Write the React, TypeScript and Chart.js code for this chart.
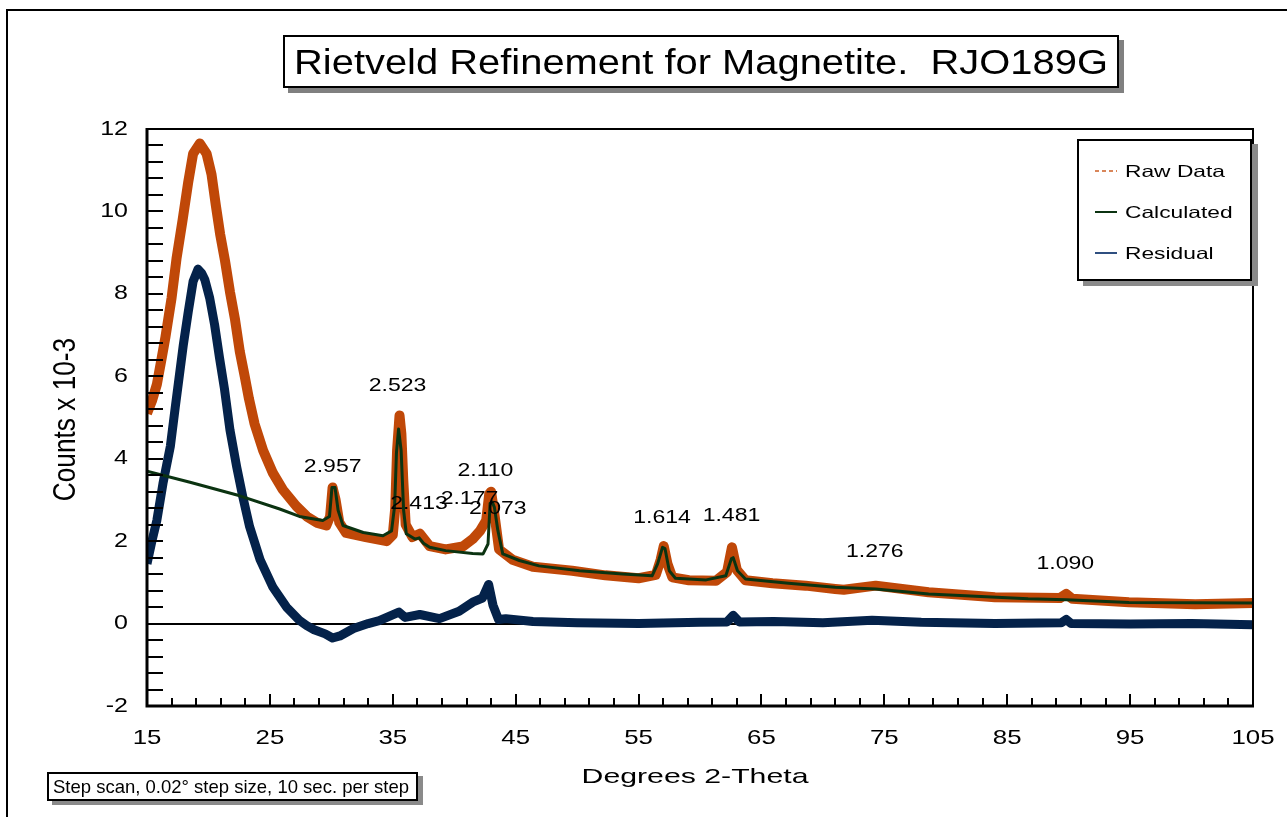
import React, { useEffect, useRef } from "react";
import { Chart, registerables } from "chart.js";

Chart.register(...registerables);

// ---------- data (degrees 2-theta, counts x 10^-3) ----------
const rawT = [15.0, 15.4, 15.8, 16.2, 16.5, 17.0, 17.4, 17.9, 18.35, 18.75, 19.3, 19.85, 20.25, 20.6, 20.95, 21.35, 21.75, 22.15, 22.55, 22.95, 23.3, 23.75, 24.45, 25.25, 26.05, 27.15, 28.0, 28.8, 29.6, 29.9, 30.1, 30.35, 30.65, 31.2, 32.8, 34.5, 35.0, 35.2, 35.35, 35.55, 35.7, 35.85, 36.05, 36.6, 37.2, 38.0, 39.3, 40.7, 41.5, 42.1, 42.6, 42.85, 43.0, 43.25, 43.65, 44.75, 46.4, 47.0, 49.6, 52.3, 55.0, 56.4, 56.8, 57.05, 57.35, 57.75, 59.1, 61.3, 62.2, 62.6, 63.0, 63.7, 65.9, 68.6, 71.0, 71.7, 74.3, 78.6, 84.0, 89.3, 89.8, 90.3, 94.9, 100.3, 105.0];
const rawV = [5.1, 5.4, 5.8, 6.45, 6.95, 7.9, 8.85, 9.8, 10.7, 11.4, 11.65, 11.4, 10.9, 10.15, 9.45, 8.8, 8.05, 7.4, 6.6, 6.0, 5.45, 4.85, 4.2, 3.65, 3.25, 2.85, 2.6, 2.45, 2.38, 2.6, 3.3, 3.0, 2.45, 2.2, 2.1, 2.0, 2.15, 2.8, 4.2, 5.05, 4.6, 3.5, 2.4, 2.1, 2.18, 1.88, 1.8, 1.87, 2.05, 2.25, 2.5, 3.15, 3.2, 2.7, 1.8, 1.55, 1.38, 1.36, 1.28, 1.17, 1.1, 1.18, 1.55, 1.88, 1.45, 1.12, 1.05, 1.04, 1.25, 1.85, 1.3, 1.05, 0.98, 0.92, 0.84, 0.82, 0.92, 0.76, 0.64, 0.62, 0.72, 0.6, 0.52, 0.47, 0.5];

const calcT = [15.0, 18.5, 22.55, 25.8, 27.4, 29.3, 29.85, 30.05, 30.3, 30.55, 30.95, 32.6, 34.2, 34.9, 35.15, 35.3, 35.47, 35.68, 35.88, 36.1, 36.8, 37.15, 37.5, 38.0, 39.3, 41.5, 42.35, 42.75, 42.92, 43.1, 43.27, 43.55, 43.95, 45.3, 46.9, 50.2, 53.7, 56.1, 56.55, 56.95, 57.15, 57.5, 58.0, 60.5, 62.1, 62.55, 62.7, 63.05, 63.7, 67.2, 71.0, 74.3, 78.6, 86.7, 89.8, 94.9, 105.0];
const calcV = [3.7, 3.43, 3.1, 2.78, 2.6, 2.5, 2.6, 3.3, 3.3, 2.75, 2.38, 2.21, 2.13, 2.25, 2.85, 4.15, 4.72, 4.2, 2.75, 2.18, 2.05, 2.08, 1.95, 1.85, 1.77, 1.7, 1.69, 1.93, 2.92, 2.95, 2.82, 2.26, 1.69, 1.53, 1.4, 1.28, 1.2, 1.16, 1.45, 1.85, 1.82, 1.28, 1.1, 1.06, 1.16, 1.57, 1.6, 1.28, 1.08, 0.98, 0.88, 0.84, 0.72, 0.6, 0.58, 0.51, 0.5];

const residT = [15.0, 15.4, 15.8, 16.3, 16.9, 17.3, 17.95, 18.35, 18.75, 19.15, 19.45, 19.7, 20.1, 20.5, 20.9, 21.3, 21.75, 22.3, 22.8, 23.35, 24.2, 25.25, 26.35, 27.4, 28.0, 28.6, 29.5, 30.1, 30.7, 31.8, 33.0, 33.9, 35.5, 36.0, 37.2, 38.8, 40.4, 41.5, 42.3, 42.8, 43.15, 43.6, 44.2, 46.4, 50.0, 55.0, 60.0, 62.2, 62.7, 63.2, 66.0, 70.0, 74.0, 78.0, 84.0, 89.4, 89.8, 90.2, 95.0, 100.0, 105.0];
const residV = [1.45, 2.0, 2.5, 3.4, 4.3, 5.25, 6.75, 7.55, 8.3, 8.6, 8.5, 8.35, 7.9, 7.25, 6.45, 5.7, 4.7, 3.8, 3.07, 2.35, 1.55, 0.88, 0.4, 0.08, -0.05, -0.15, -0.25, -0.35, -0.3, -0.12, 0.0, 0.07, 0.28, 0.15, 0.22, 0.12, 0.3, 0.52, 0.62, 0.95, 0.45, 0.1, 0.12, 0.05, 0.02, 0.0, 0.03, 0.04, 0.2, 0.04, 0.05, 0.02, 0.08, 0.03, 0.0, 0.02, 0.1, 0.0, -0.01, 0.0, -0.03];

const xTickValues = [15, 25, 35, 45, 55, 65, 75, 85, 95, 105];
const yTickValues = [-2, 0, 2, 4, 6, 8, 10, 12];
const xMinorStep = 2;
const yMinorStep = 0.4;

const peakText = ["2.957", "2.523", "2.413", "2.177", "2.110", "2.073", "1.614", "1.481", "1.276", "1.090"];
const peakT = [30.11, 35.39, 37.13, 41.24, 42.54, 43.55, 56.91, 62.56, 74.22, 89.73];
const peakV = [3.81, 5.76, 2.9, 3.03, 3.7, 2.78, 2.57, 2.62, 1.73, 1.45];

const titleText = "Rietveld Refinement for Magnetite.  RJO189G";
const xTitle = "Degrees 2-Theta";
const yTitle = "Counts x 10-3";
const noteText = "Step scan, 0.02\u00b0 step size, 10 sec. per step";
const legendItems = ["Raw Data", "Calculated", "Residual"];

const FONT = "'Liberation Sans', Arial, Helvetica, sans-serif";
const RAW_COLOR = "#c04808";
const CALC_COLOR = "#0b3311";
const RESID_COLOR = "#04224a";

function drawText(ctx: CanvasRenderingContext2D, text: string, x: number, y: number, size: number, align: CanvasTextAlign, sx: number, rot = 0) {
  ctx.save();
  ctx.translate(x, y);
  if (rot) ctx.rotate(rot);
  ctx.scale(sx, 1);
  ctx.font = `${size}px ${FONT}`;
  ctx.textAlign = align;
  ctx.textBaseline = "middle";
  ctx.fillStyle = "#000";
  ctx.fillText(text, 0, 0);
  ctx.restore();
}

const decorPlugin = {
  id: "decor",
  beforeDatasetsDraw(chart: any) {
    const { ctx, chartArea: a, scales } = chart;
    const y0 = Math.round(scales.y.getPixelForValue(0));
    ctx.save();
    ctx.strokeStyle = "#000";
    ctx.lineWidth = 2;
    ctx.beginPath();
    ctx.moveTo(a.left, y0);
    ctx.lineTo(a.right, y0);
    ctx.stroke();
    ctx.restore();
  },
  afterDatasetsDraw(chart: any) {
    const { ctx, chartArea: a, scales } = chart;
    const xs = scales.x;
    const ys = scales.y;
    ctx.save();
    ctx.strokeStyle = "#000";
    ctx.lineCap = "butt";
    ctx.lineWidth = 2;
    ctx.beginPath();
    ctx.moveTo(a.left, a.top);
    ctx.lineTo(a.right, a.top);
    ctx.lineTo(a.right, a.bottom);
    ctx.stroke();
    ctx.lineWidth = 3;
    ctx.beginPath();
    ctx.moveTo(a.left, a.top - 1);
    ctx.lineTo(a.left, a.bottom);
    ctx.lineTo(a.right + 1, a.bottom);
    ctx.stroke();

    ctx.lineWidth = 2;
    const nY = Math.round((ys.max - ys.min) / yMinorStep);
    for (let i = 1; i < nY; i++) {
      const v = ys.min + i * yMinorStep;
      const py = Math.round(ys.getPixelForValue(v));
      ctx.beginPath();
      ctx.moveTo(a.left, py);
      ctx.lineTo(a.left + 16, py);
      ctx.stroke();
    }
    const nX = Math.round((xs.max - xs.min) / xMinorStep);
    for (let i = 1; i < nX; i++) {
      const v = xs.min + i * xMinorStep;
      const major = xTickValues.some((t) => Math.abs(t - v) < 1e-6);
      const px = Math.round(xs.getPixelForValue(v));
      ctx.beginPath();
      ctx.moveTo(px, a.bottom);
      ctx.lineTo(px, a.bottom - (major ? 12 : 8));
      ctx.stroke();
    }
    ctx.restore();

    ys.ticks.forEach((t: any) => drawText(ctx, String(t.value), a.left - 19, ys.getPixelForValue(t.value), 20, "right", 1.25));
    xs.ticks.forEach((t: any) => drawText(ctx, String(t.value), xs.getPixelForValue(t.value), a.bottom + 32, 21, "center", 1.23));
    drawText(ctx, xTitle, (a.left + a.right) / 2 - 5, a.bottom + 71, 21, "center", 1.44);
    drawText(ctx, yTitle, 66.5, (a.top + a.bottom) / 2 + 2, 32, "center", 0.82, -Math.PI / 2);

    peakText.forEach((txt, i) => {
      drawText(ctx, txt, xs.getPixelForValue(peakT[i]), ys.getPixelForValue(peakV[i]), 18, "center", 1.28);
    });
  },
};

function ChartCanvas() {
  const ref = useRef<HTMLCanvasElement | null>(null);
  useEffect(() => {
    if (!ref.current) return;
    const toPts = (t: number[], v: number[]) => t.map((x, i) => ({ x, y: v[i] }));
    const chart = new Chart(ref.current, {
      type: "line",
      data: {
        datasets: [
          { label: "Calculated", data: toPts(calcT, calcV), borderColor: CALC_COLOR, borderWidth: 3, order: 0, clip: 0, borderJoinStyle: "round" } as any,
          { label: "Raw Data", data: toPts(rawT, rawV), borderColor: RAW_COLOR, borderWidth: 10, order: 1, clip: 0, borderJoinStyle: "round" } as any,
          { label: "Residual", data: toPts(residT, residV), borderColor: RESID_COLOR, borderWidth: 9, order: 2, clip: 0, borderJoinStyle: "round" } as any,
        ],
      },
      options: {
        animation: false,
        responsive: false,
        maintainAspectRatio: false,
        layout: { padding: { left: 0, top: 129, right: 34, bottom: 0 } },
        elements: { point: { radius: 0 }, line: { tension: 0 } },
        plugins: { legend: { display: false }, tooltip: { enabled: false }, title: { display: false } },
        scales: {
          x: {
            type: "linear",
            min: 15,
            max: 105,
            grid: { display: false, drawTicks: false },
            border: { display: false },
            ticks: { display: false },
            afterBuildTicks: (s: any) => {
              s.ticks = xTickValues.map((v) => ({ value: v }));
            },
            afterFit: (s: any) => {
              s.height = 111;
            },
          },
          y: {
            type: "linear",
            min: -2,
            max: 12,
            grid: { display: false, drawTicks: false },
            border: { display: false },
            ticks: { display: false },
            afterBuildTicks: (s: any) => {
              s.ticks = yTickValues.map((v) => ({ value: v }));
            },
            afterFit: (s: any) => {
              s.width = 147;
            },
          },
        },
      } as any,
      plugins: [decorPlugin],
    });
    return () => chart.destroy();
  }, []);
  return <canvas ref={ref} width={1287} height={817} style={{ position: "absolute", left: 0, top: 0, width: 1287, height: 817 }} />;
}

const boxBase: React.CSSProperties = {
  position: "absolute",
  boxSizing: "border-box",
  border: "2px solid #000",
  background: "#fff",
};

export default function App() {
  return (
    <div style={{ position: "absolute", left: 0, top: 0, width: 1287, height: 817, overflow: "hidden", background: "#fff", fontFamily: FONT }}>
      <div style={{ position: "absolute", left: 6, top: 9, width: 1300, height: 830, borderLeft: "2px solid #000", borderTop: "2px solid #000" }} />
      <ChartCanvas />
      {/* title */}
      <div style={{ ...boxBase, left: 283, top: 35, width: 836, height: 53, boxShadow: "5px 5px 0 #808080", display: "flex", alignItems: "center", justifyContent: "center" }}>
        <span style={{ fontSize: 35, lineHeight: 1, whiteSpace: "pre", display: "inline-block", transform: "scaleX(1.14)", color: "#000" }}>{titleText}</span>
      </div>
      {/* legend */}
      <div style={{ ...boxBase, left: 1077, top: 139, width: 175, height: 142, boxShadow: "6px 5px 0 #8a8a8a" }}>
        {legendItems.map((label, i) => {
          const rowY = 30 + i * 41;
          const sample: React.CSSProperties =
            i === 0
              ? { background: "repeating-linear-gradient(to right, #d9865a 0 4px, transparent 4px 7px)" }
              : { background: i === 1 ? CALC_COLOR : "#2f4f80" };
          return (
            <React.Fragment key={label}>
              <div style={{ position: "absolute", left: 16, top: rowY - 1, width: 22, height: 2, ...sample }} />
              <div style={{ position: "absolute", left: 46, top: rowY - 10, height: 20, lineHeight: "20px", fontSize: 16.5, whiteSpace: "pre", transform: "scaleX(1.38)", transformOrigin: "left center", color: "#000" }}>{label}</div>
            </React.Fragment>
          );
        })}
      </div>
      {/* note */}
      <div style={{ ...boxBase, left: 47, top: 772, width: 371, height: 29, boxShadow: "5px 4px 0 #8a8a8a", display: "flex", alignItems: "center", paddingLeft: 4, paddingTop: 2 }}>
        <span style={{ fontSize: 18.5, lineHeight: 1, whiteSpace: "pre", color: "#000" }}>{noteText}</span>
      </div>
    </div>
  );
}
